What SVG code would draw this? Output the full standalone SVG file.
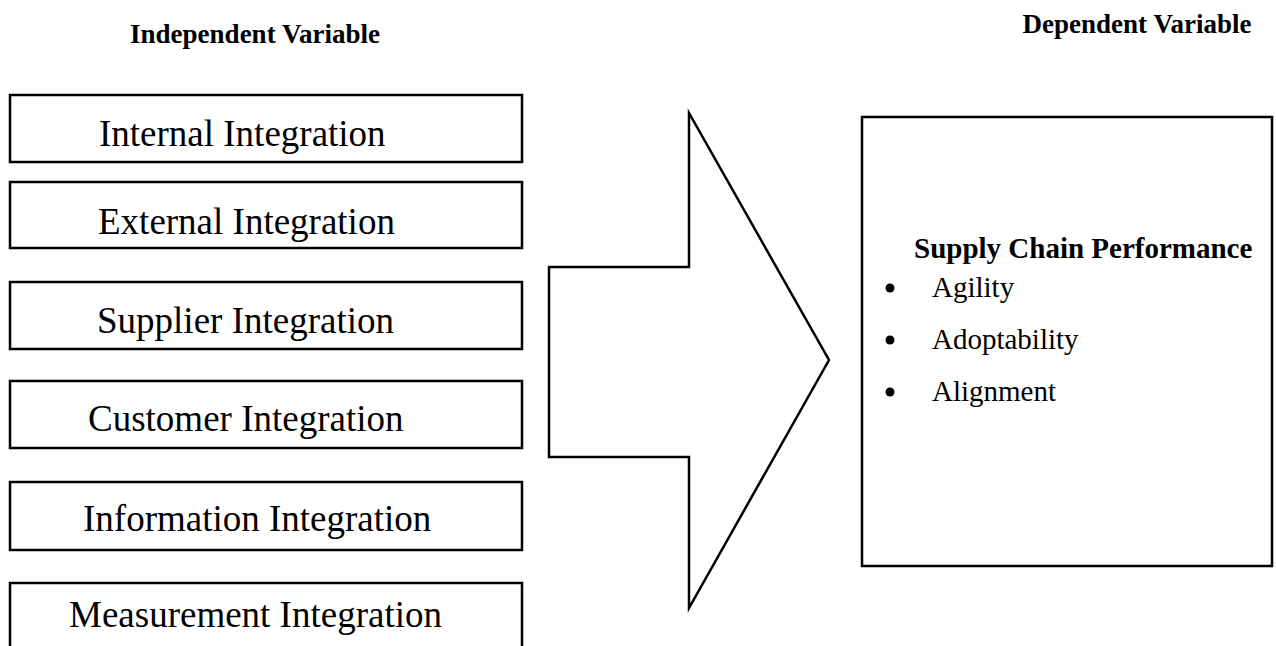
<svg xmlns="http://www.w3.org/2000/svg" width="1276" height="646" viewBox="0 0 1276 646">
<style>
.box{fill:#fff;stroke:#000;stroke-width:2.5}
.lbl{font-family:"Liberation Serif","Times New Roman",serif;font-size:37px;fill:#000}
.hdr{font-family:"Liberation Serif","Times New Roman",serif;font-size:27px;font-weight:bold;fill:#000;text-anchor:middle}
.sub{font-family:"Liberation Serif","Times New Roman",serif;font-size:29px;font-weight:bold;fill:#000}
.item{font-family:"Liberation Serif","Times New Roman",serif;font-size:29px;fill:#000}
</style>
<rect width="1276" height="646" fill="#fff"/>
<text class="hdr" x="255" y="43">Independent Variable</text>
<text class="hdr" x="1137" y="33">Dependent Variable</text>
<g id="internal"><rect class="box" x="10" y="95" width="512" height="67"/><text class="lbl" x="99" y="146">Internal Integration</text></g>
<g id="external"><rect class="box" x="10" y="182" width="512" height="66"/><text class="lbl" x="98" y="234">External Integration</text></g>
<g id="supplier"><rect class="box" x="10" y="282" width="512" height="67"/><text class="lbl" x="97" y="333">Supplier Integration</text></g>
<g id="customer"><rect class="box" x="10" y="381" width="512" height="67"/><text class="lbl" x="88" y="431">Customer Integration</text></g>
<g id="information"><rect class="box" x="10" y="482" width="512" height="68"/><text class="lbl" x="83" y="531">Information Integration</text></g>
<g id="measurement"><rect class="box" x="10" y="583" width="512" height="90"/><text class="lbl" x="69" y="627">Measurement Integration</text></g>
<g id="connectors"><polygon class="box" points="549,267 689,267 689,113 829,360 689,608 689,457 549,457"/></g>
<g id="performance"><rect class="box" x="862" y="117" width="410" height="449"/>
<text class="sub" x="914" y="258">Supply Chain Performance</text>
<circle cx="890" cy="288" r="4.5"/><text class="item" x="932" y="297">Agility</text>
<circle cx="890" cy="340" r="4.5"/><text class="item" x="932" y="349">Adoptability</text>
<circle cx="890" cy="392" r="4.5"/><text class="item" x="932" y="401">Alignment</text>
</g>
</svg>
